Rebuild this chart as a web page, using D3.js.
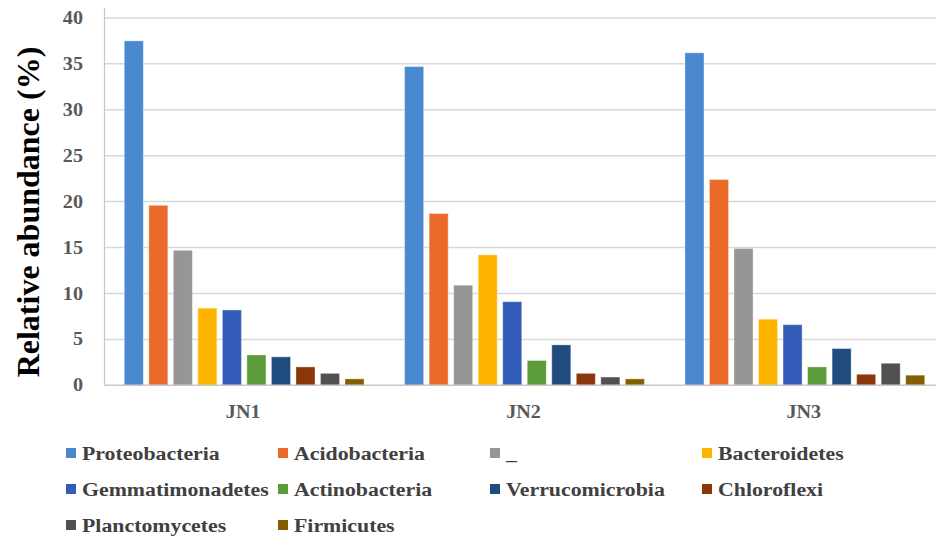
<!DOCTYPE html>
<html>
<head>
<meta charset="utf-8">
<script src="https://cdn.jsdelivr.net/npm/d3@7/dist/d3.min.js"></script>
<style>
  html, body { margin: 0; padding: 0; background: #fff; }
  svg { display: block; }
</style>
</head>
<body>
<svg id="chart" width="936" height="539"></svg>
<script>
// Samples on the x axis
const samples = ["JN1", "JN2", "JN3"];

// Phyla (one bar per phylum inside each sample)
const phyla = ["Proteobacteria", "Acidobacteria", "_", "Bacteroidetes", "Gemmatimonadetes",
               "Actinobacteria", "Verrucomicrobia", "Chloroflexi", "Planctomycetes", "Firmicutes"];

// Relative abundance (%) per sample, in the order of `phyla`
const jn1Values = [37.5, 19.6, 14.7, 8.4, 8.2, 3.3, 3.1, 2.0, 1.3, 0.7];
const jn2Values = [34.7, 18.7, 10.9, 14.2, 9.1, 2.7, 4.4, 1.3, 0.9, 0.7];
const jn3Values = [36.2, 22.4, 14.9, 7.2, 6.6, 2.0, 4.0, 1.2, 2.4, 1.1];

// Y axis ticks
const yTicks = [0, 5, 10, 15, 20, 25, 30, 35, 40];

const phylumColors = ["#4A88D0", "#EA6A29", "#969696", "#FFB400", "#335CB8",
                      "#5B9B3A", "#1F4B7F", "#8B350A", "#515151", "#835F00"];

const valuesBySample = [jn1Values, jn2Values, jn3Values];

const FONT = "'Liberation Serif', 'Times New Roman', Times, 'DejaVu Serif', serif";

const svg = d3.select("#chart")
  .attr("font-family", FONT)
  .attr("font-weight", "bold");
const W = 936;
const stretch = 1.12;   // horizontal widening of the serif labels

const y = d3.scaleLinear().domain([0, 40]).range([385.3, 17.9]);
const x0 = d3.scaleBand().domain(samples).range([104, 945]).padding(0);
const x1 = d3.scaleBand().domain(phyla).range([0, x0.bandwidth()])
  .paddingInner(0.224).paddingOuter(0.827);
const color = d3.scaleOrdinal().domain(phyla).range(phylumColors);

// helper: text anchored at (x, y), widened horizontally
function label(g, x, yy, str, opts) {
  return g.append("text")
    .attr("transform", `translate(${x},${yy}) scale(${opts.sx || 1},1)`)
    .attr("text-anchor", opts.anchor || "start")
    .attr("dominant-baseline", "central")
    .attr("font-family", FONT)
    .attr("font-weight", "bold")
    .attr("font-size", opts.size)
    .attr("fill", opts.fill)
    .text(str);
}

// gridlines
svg.append("g").selectAll("line").data(yTicks.filter(d => d > 0)).join("line")
  .attr("x1", 104).attr("x2", W)
  .attr("y1", d => y(d)).attr("y2", d => y(d))
  .attr("stroke", "#d9d9d9").attr("stroke-width", 1.5);

// bars
const groups = svg.append("g").selectAll("g").data(samples).join("g")
  .attr("transform", d => `translate(${x0(d)},0)`);

groups.selectAll("rect")
  .data((s, i) => phyla.map((p, j) => ({ phylum: p, value: valuesBySample[i][j] })))
  .join("rect")
  .attr("x", d => x1(d.phylum))
  .attr("width", x1.bandwidth())
  .attr("y", d => y(d.value))
  .attr("height", d => y(0) - y(d.value))
  .attr("fill", d => color(d.phylum))
  .attr("stroke", "rgba(255,255,255,0.35)")
  .attr("stroke-width", 1);

// axis lines
svg.append("line").attr("x1", 104).attr("x2", W).attr("y1", y(0)).attr("y2", y(0))
  .attr("stroke", "#c8c8c8").attr("stroke-width", 1.5);
svg.append("line").attr("x1", 104.5).attr("x2", 104.5).attr("y1", 8).attr("y2", y(0))
  .attr("stroke", "#c8c8c8").attr("stroke-width", 1.2);

// y tick labels
const yAxisG = svg.append("g");
yTicks.forEach(t => label(yAxisG, 83, y(t), String(t), { size: 18, fill: "#595959", anchor: "end", sx: stretch }));

// x category labels
const xAxisG = svg.append("g");
samples.forEach(s => label(xAxisG, x0(s) + x0.bandwidth() / 2 - 1, 412, s,
  { size: 18, fill: "#595959", anchor: "middle", sx: stretch }));

// y axis title
svg.append("text")
  .attr("transform", "translate(28,212) rotate(-90)")
  .attr("text-anchor", "middle")
  .attr("dominant-baseline", "central")
  .attr("font-family", FONT)
  .attr("font-weight", "bold")
  .attr("font-size", 32)
  .attr("fill", "#000")
  .text("Relative abundance (%)");

// legend
const legendCols = [66, 278, 490, 702];
const legendRows = [453, 489, 525];
const legend = svg.append("g");
phyla.forEach((p, i) => {
  const cx = legendCols[i % 4];
  const cy = legendRows[Math.floor(i / 4)];
  legend.append("rect").attr("x", cx).attr("y", cy - 5).attr("width", 10).attr("height", 10)
    .attr("fill", color(p));
  label(legend, cx + 16, cy, p, { size: 19.5, fill: "#404040", anchor: "start", sx: stretch });
});
</script>
</body>
</html>
